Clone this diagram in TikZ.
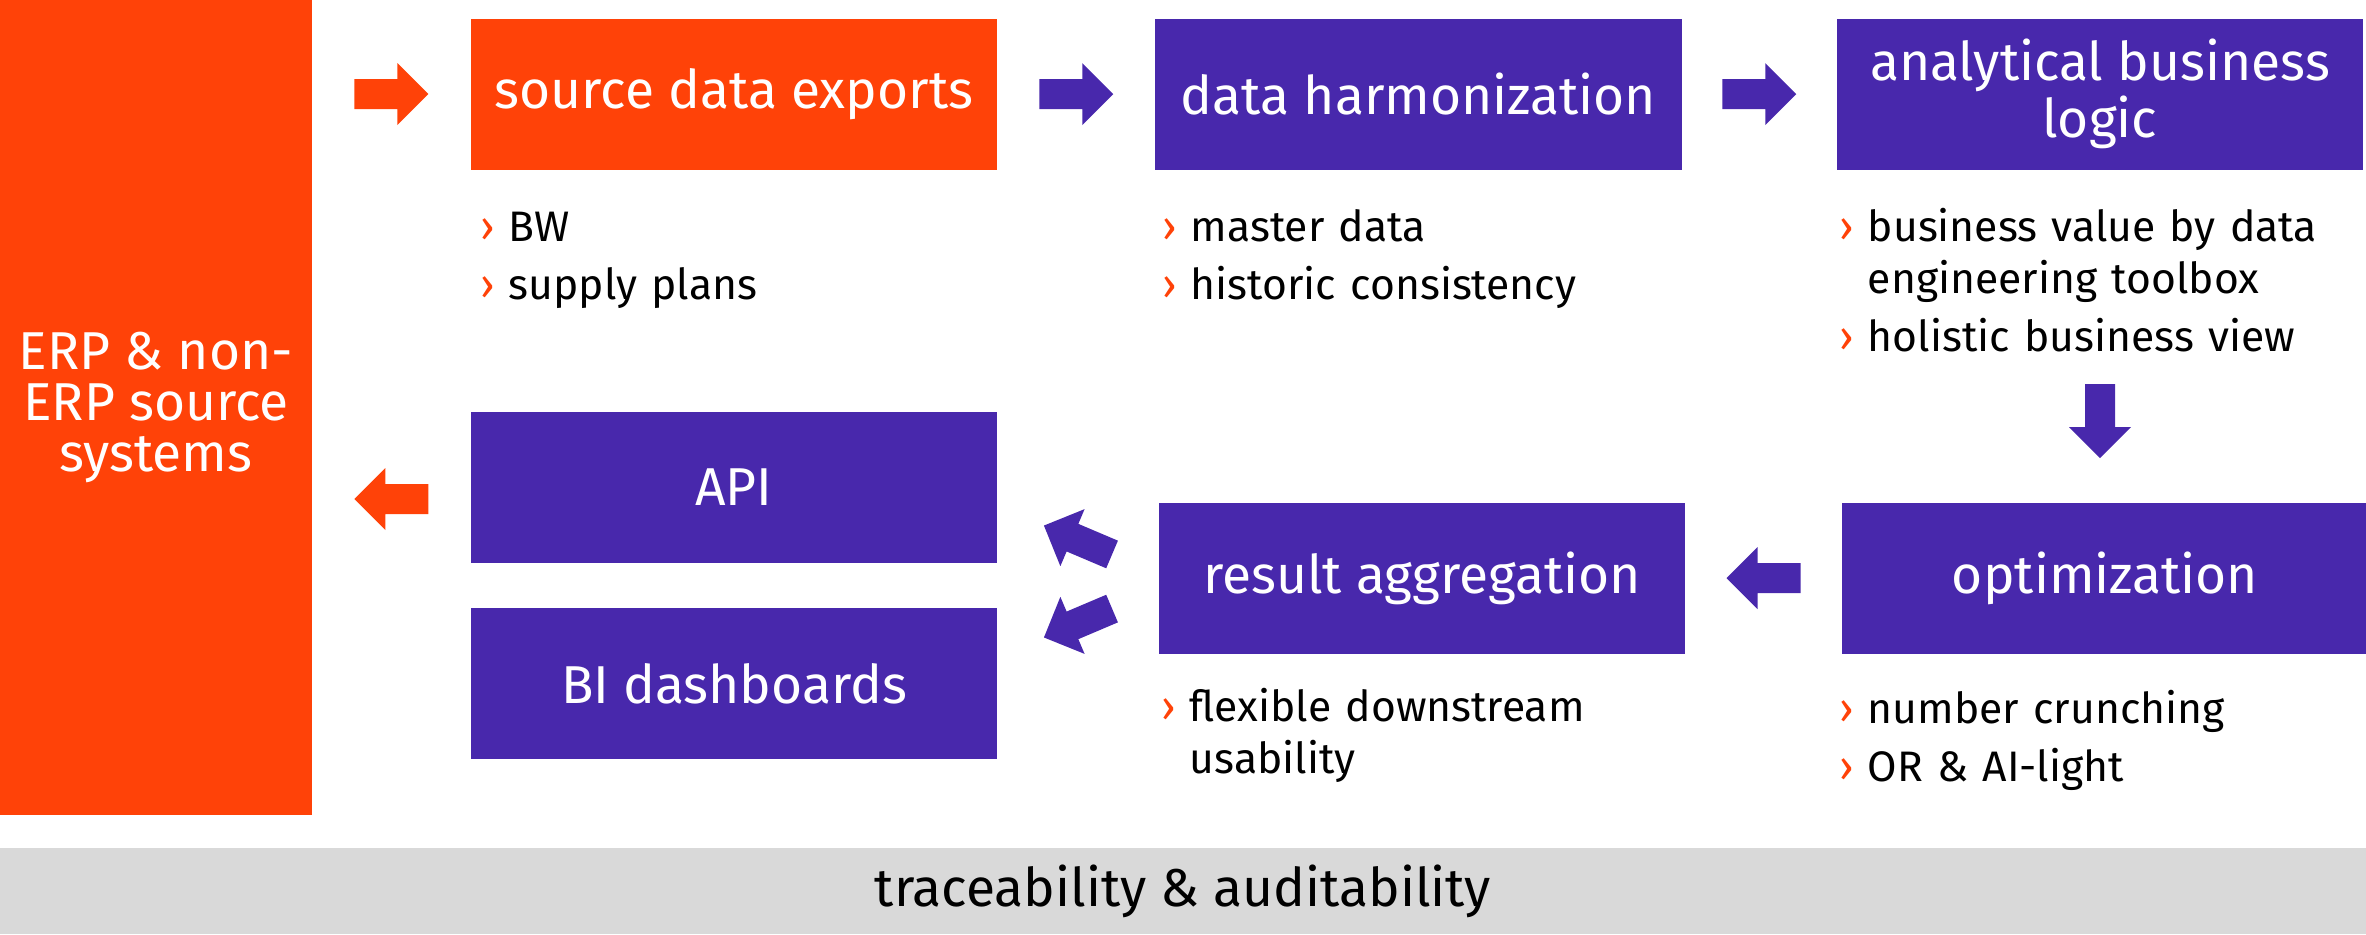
\documentclass[tikz,border=0pt]{standalone}
\usepackage{fontspec}
\setmainfont{Fira Sans}
\usetikzlibrary{calc}
\definecolor{eorange}{HTML}{FF4208}
\definecolor{epurple}{HTML}{4828AC}
\definecolor{egray}{HTML}{D9D9D9}
\newcommand\titlefont{\fontsize{16}{15.6}\selectfont}
\newcommand\bulfont{\fontsize{12.8}{15.6}\selectfont}
\newcommand\bitem[1]{\hangindent=8.6pt\hangafter=1\noindent\makebox[8.6pt][l]{\textcolor{eorange}{›}}#1\par}
\newcommand\blist[1]{\setlength{\parskip}{1.8pt}#1}
\begin{document}
\begin{tikzpicture}[x=0.3pt,y=-0.3pt,
  box/.style={minimum width=158pt, minimum height=45.3pt, inner sep=0pt, text=white, font=\titlefont, align=center, fill=epurple},
  obox/.style={box, fill=eorange},
  bul/.style={text width=200pt, align=left, inner sep=0pt, font=\bulfont, anchor=base west},
  barrow/.pic={\fill[pic actions] (-37,-15) -- (6,-15) -- (6,-31) -- (37,0) -- (6,31) -- (6,15) -- (-37,15) -- cycle;}
]
\useasboundingbox (0,0) rectangle (2366,934);
% left source block
\node[obox, minimum width=93.6pt, minimum height=244.5pt, font=\fontsize{16}{15.3}\selectfont] (erp) at (156,407.5) {ERP \& non-\\ERP source\\systems};
% boxes
\node[obox] (src) at (734,94) {source data exports};
\node[box] (harm) at (1418.5,94) {data harmonization};
\node[box] (ana) at (2100,94) {analytical business\\logic};
\node[box] (opt) at (2105,578) {optimization};
\node[box] (res) at (1422,578) {result aggregation};
\node[box] (api) at (734,487.5) {API};
\node[box] (bi) at (734,683.5) {BI dashboards};
% bottom band
\node[fill=egray, minimum width=709.8pt, minimum height=25.8pt, inner sep=0pt, font=\titlefont] (band) at (1183,891) {traceability \& auditability};
% bullet lists
\node[bul] (srcb) at ($(src.south west)+(9.5,71.5)$) {\blist{\bitem{BW}\bitem{supply plans}}};
\node[bul] (harmb) at ($(harm.south west)+(7,71.5)$) {\blist{\bitem{master data}\bitem{historic consistency}}};
\node[bul] (anab) at ($(ana.south west)+(2.5,71.5)$) {\blist{\bitem{business value by data\newline engineering toolbox}\bitem{holistic business view}}};
\node[bul] (resb) at ($(res.south west)+(2.5,67.5)$) {\blist{\bitem{flexible downstream\newline usability}}};
\node[bul] (optb) at ($(opt.south west)+(-2.5,69.5)$) {\blist{\bitem{number crunching}\bitem{OR \& AI-light}}};
% block arrows
\pic[fill=eorange] at ($(erp.east |- src)!0.5!(src.west)$) {barrow};
\pic[fill=epurple] at ($(src.east)!0.5!(harm.west)$) {barrow};
\pic[fill=epurple] at ($(harm.east)!0.5!(ana.west)$) {barrow};
\pic[fill=epurple, rotate=-90] at ($(ana.south)+(0,251)$) {barrow};
\pic[fill=epurple, rotate=180] at ($(res.east)!0.5!(opt.west)$) {barrow};
\pic[fill=epurple, rotate=157] at ($(res.west)+(-80,-38)$) {barrow};
\pic[fill=epurple, rotate=-157] at ($(res.west)+(-80,45)$) {barrow};
\pic[fill=eorange, rotate=180] at ($(erp.east |- api)!0.5!(api.west)+(0,11.5)$) {barrow};
\end{tikzpicture}
\end{document}
